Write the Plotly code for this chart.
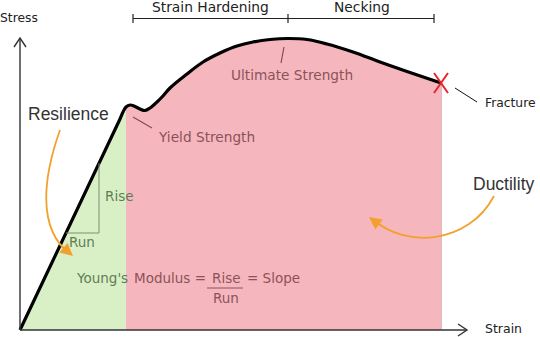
import plotly.graph_objects as go

# ---- data (strain, stress) in chart units ----
strain = [0, 100, 103, 106, 110, 115, 120, 125, 130, 137, 142, 150, 167, 183, 200,
          217, 233, 250, 268, 287, 307, 333, 360, 387, 421]
stress = [0, 211, 218, 223, 225, 223.5, 221, 219.5, 222, 228, 233, 242, 256, 268, 277,
          284, 288, 290.5, 291.5, 290.5, 286, 278, 268, 258.5, 247]
yield_idx = 3          # end of elastic (green) region
fracture_idx = len(strain) - 1

# decorations
hard_range = [113, 268]
neck_range = [268, 414]
bar_y = 311.5
rise_x = 79
run_y = 97
slope = stress[1] / strain[1]

PINK = "#f5b7bd"
GREEN = "#d9f0c7"
ORANGE = "#f2a12e"
RED_TXT = "#8c525b"
GRN_TXT = "#5f7d55"
DJ = "DejaVu Sans"
LIB = "Liberation Sans"

fig = go.Figure()

# fills
fig.add_trace(go.Scatter(x=strain[:yield_idx + 1], y=stress[:yield_idx + 1], mode="lines",
                         line=dict(width=0, shape="spline"), fill="tozeroy",
                         fillcolor=GREEN, hoverinfo="skip"))
fig.add_trace(go.Scatter(x=strain[yield_idx:], y=stress[yield_idx:], mode="lines",
                         line=dict(width=0, shape="spline"), fill="tozeroy",
                         fillcolor=PINK, hoverinfo="skip"))

shapes = []
# red region edges
for i in (yield_idx, fracture_idx):
    shapes.append(dict(type="line", x0=strain[i], x1=strain[i], y0=0, y1=stress[i],
                       line=dict(color="#c98a90", width=1.2), layer="below"))

# main curve
fig.add_trace(go.Scatter(x=strain, y=stress, mode="lines",
                         line=dict(color="black", width=3.2, shape="spline"),
                         hoverinfo="skip"))

AX = "#333333"
# axes
shapes += [
    dict(type="line", x0=0, y0=0, x1=447, y1=0, line=dict(color=AX, width=1.4)),
    dict(type="path", path="M 438 6 L 447 0 L 438 -6", line=dict(color=AX, width=1.4)),
    dict(type="line", x0=0, y0=0, x1=0, y1=292, line=dict(color=AX, width=1.4)),
    dict(type="path", path="M -6 283 L 0 292 L 6 283", line=dict(color=AX, width=1.4)),
]
# range bars
for a, b in (hard_range, neck_range):
    shapes.append(dict(type="line", x0=a, x1=b, y0=bar_y, y1=bar_y, line=dict(color="#222", width=1.2)))
for xx in (hard_range[0], hard_range[1], neck_range[1]):
    shapes.append(dict(type="line", x0=xx, x1=xx, y0=bar_y - 4.5, y1=bar_y + 4.5,
                       line=dict(color="#222", width=1.2)))
# rise / run triangle
shapes.append(dict(type="path",
                   path=f"M {rise_x} {rise_x * slope} L {rise_x} {run_y} L {run_y / slope} {run_y}",
                   line=dict(color="#7d8f72", width=1)))
# leader lines
shapes.append(dict(type="line", x0=113, y0=213, x1=132, y1=202, line=dict(color="#8a4a53", width=1.2)))
shapes.append(dict(type="line", x0=264, y0=283, x1=261, y1=267, line=dict(color="#7a4a52", width=1.2)))
shapes.append(dict(type="line", x0=435, y0=242, x1=457, y1=228, line=dict(color="#111", width=1)))
# fraction bar
shapes.append(dict(type="line", x0=187, x1=223, y0=42, y1=42, line=dict(color=RED_TXT, width=1)))
# fracture cross
fx, fy = strain[fracture_idx], stress[fracture_idx]
shapes.append(dict(type="line", x0=fx - 7, y0=fy + 10, x1=fx + 7, y1=fy - 10, line=dict(color="#e3262c", width=2)))
shapes.append(dict(type="line", x0=fx - 7, y0=fy - 10, x1=fx + 7, y1=fy + 10, line=dict(color="#e3262c", width=2)))
# orange curved arrows
shapes.append(dict(type="path", path="M 40 200 C 24 155, 16 102, 50 76",
                   line=dict(color=ORANGE, width=1.8)))
shapes.append(dict(type="path", path="M 474 134 C 448 85, 385 82, 354 110",
                   line=dict(color=ORANGE, width=1.8)))

ann = []
def txt(x, y, s, size=13.7, color="#222", family=DJ, xanchor="left"):
    ann.append(dict(x=x, y=y, text=s, showarrow=False, xanchor=xanchor, yanchor="middle",
                    borderpad=0, font=dict(size=size, color=color, family=family)))

txt(-1, 312, "Stress", 12.3, "#222", xanchor="center")
txt(464, 1.5, "Strain", 12.5, "#222")
txt(190.5, 323, "Strain Hardening", 13.8, "#222", xanchor="center")
txt(341.5, 323, "Necking", 13.8, "#222", xanchor="center")
txt(271.5, 255, "Ultimate Strength", 13.7, RED_TXT, xanchor="center")
txt(137, 193, "Yield Strength", 13.7, RED_TXT)
txt(7, 216, "Resilience", 17.5, "#333", LIB)
txt(452, 146, "Ductility", 17.5, "#333", LIB)
txt(464, 227, "Fracture", 12.3, "#222")
txt(84, 134, "Rise", 13.5, GRN_TXT)
txt(48, 88, "Run", 13.5, GRN_TXT)
txt(55, 52, "Young's", 13.5, GRN_TXT)
txt(113, 52, "Modulus =", 13.5, RED_TXT)
txt(206, 52, "Rise", 13.5, RED_TXT, xanchor="center")
txt(226, 52, "= Slope", 13.5, RED_TXT)
txt(206, 32, "Run", 13.5, RED_TXT, xanchor="center")

# arrowheads
for (x, y, axx, ayy) in ((53, 74, 46, 80), (349, 113, 357, 107)):
    ann.append(dict(x=x, y=y, ax=axx, ay=ayy, axref="x", ayref="y", xref="x", yref="y",
                    text="", showarrow=True, arrowhead=2, arrowsize=1.4, arrowwidth=1.8,
                    arrowcolor=ORANGE))

fig.update_layout(
    width=540, height=337, margin=dict(l=0, r=0, t=0, b=0),
    paper_bgcolor="white", plot_bgcolor="white", showlegend=False,
    xaxis=dict(range=[-20, 520], visible=False, fixedrange=True),
    yaxis=dict(range=[-7, 330], visible=False, fixedrange=True),
    shapes=shapes, annotations=ann,
)
fig.write_html("out.html", config={"displayModeBar": False})
